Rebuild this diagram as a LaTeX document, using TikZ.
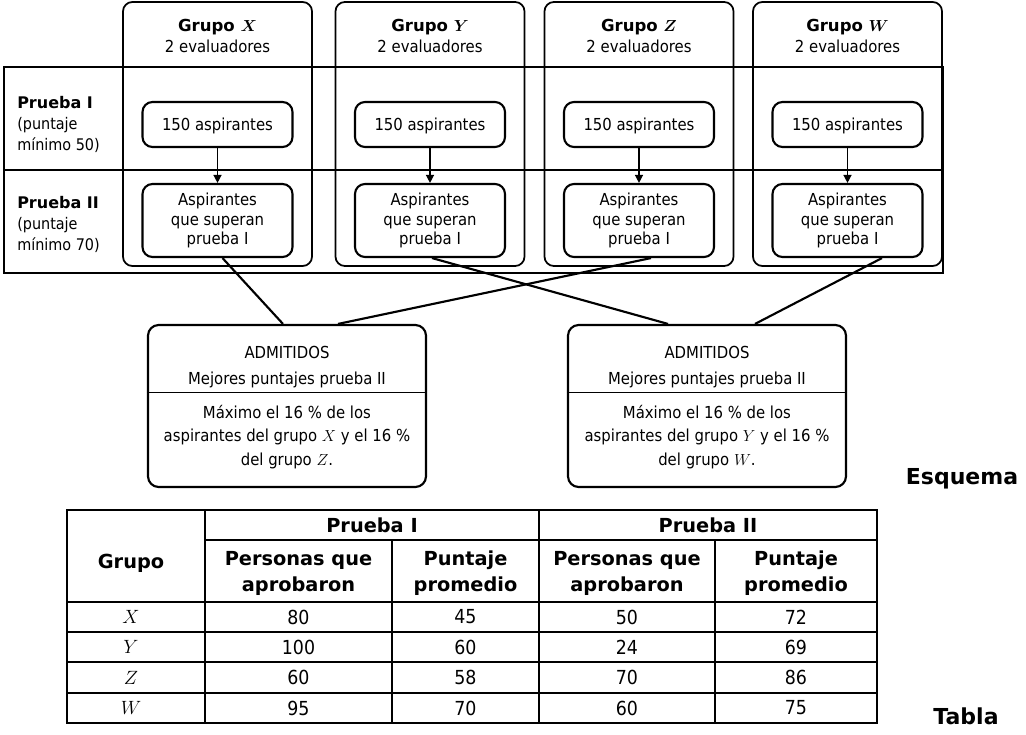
\documentclass[tikz,border=0pt]{standalone}
\usepackage{amsmath}
\usepackage{fontspec}
\setmainfont{DejaVu Sans Condensed}[BoldFont={DejaVu Sans Bold}]
\usetikzlibrary{calc,arrows.meta}

\begin{document}
\begin{tikzpicture}[x=0.75pt,y=-0.75pt,
  col/.style={draw, line width=1.3pt, rounded corners=7pt,
    minimum width=141.75pt, minimum height=198pt, inner sep=0pt},
  frame/.style={draw, line width=1.6pt, minimum width=704.25pt,
    minimum height=154.5pt, inner sep=0pt},
  box/.style={draw, line width=1.6pt, rounded corners=7.5pt,
    minimum width=112.5pt, inner sep=0pt, align=center,
    font=\fontsize{12.4}{14.6}\selectfont},
  adm/.style={draw, line width=1.6pt, rounded corners=8pt,
    minimum width=208.5pt, minimum height=121.5pt, inner sep=0pt},
  head/.style={align=center, font=\fontsize{12.4}{15.75}\selectfont},
  rowlab/.style={align=left, anchor=west, inner sep=0pt,
    font=\fontsize{12}{15.75}\selectfont},
  admtxt/.style={align=center, inner sep=0pt, font=\fontsize{12.4}{17.6}\selectfont},
  link/.style={line width=1.6pt},
  arr/.style={-{Triangle[length=6pt,width=6pt]}, line width=1pt},
  tabtxt/.style={align=center, inner sep=0pt, font=\fontsize{14.5}{19.5}\selectfont},
  tabhead/.style={align=center, inner sep=0pt, font=\bfseries\fontsize{14.5}{19.5}\selectfont},
  caption/.style={inner sep=0pt, font=\bfseries\fontsize{16.5}{18}\selectfont},
  grid/.style={line width=1pt}
]
\useasboundingbox (0,0) rectangle (1026,735);

% ---------- stages frame ----------
\node[frame] (frame) at (473.5,170) {};
\draw[line width=1.6pt] (frame.west) -- (frame.east);

\node[rowlab] (lab1) at (17,124) {\textbf{Prueba I}\\(puntaje\\mínimo 50)};
\node[rowlab] (lab2) at (17,224) {\textbf{Prueba II}\\(puntaje\\mínimo 70)};

% ---------- group columns ----------
\foreach \g/\cx/\gl in {x/217.5/X, y/430/Y, z/639/Z, w/847.5/W}{
  \node[col] (col\g) at (\cx,134) {};
  \node[head] (head\g) at (\cx,36) {\textbf{Grupo $\boldsymbol{\gl}$}\\2 evaluadores};
  \node[box, minimum height=33.75pt, text depth=0pt] (pa\g) at (\cx,124.5) {150 aspirantes};
  \node[box, minimum height=54.75pt] (pb\g) at (\cx,220.5) {Aspirantes\\que superan\\prueba I};
  \draw[arr] (pa\g.south) -- (pb\g.north);
}

% ---------- admission boxes ----------
\node[adm] (admL) at (287,406) {};
\node[adm] (admR) at (707,406) {};
\foreach \a/\p/\q in {admL/X/Z, admR/Y/W}{
  \draw[line width=0.8pt] ($(\a.north west)+(0,69)$) -- ($(\a.north east)+(0,69)$);
  \node[admtxt] (\a-t1) at ($(\a.north)+(0,29)$) {ADMITIDOS};
  \node[admtxt] (\a-t2) at ($(\a.north)+(0,56)$) {Mejores puntajes prueba II};
  \node[admtxt] (\a-b) at ($(\a.north)+(0,113)$)
    {Máximo el 16 \% de los\\aspirantes del grupo $\p$ y el 16 \%\\del grupo $\q$.};
}

% ---------- connectors ----------
\draw[link] ($(pbx.south)+(5,0)$) -- ($(admL.north)+(-4,0)$);
\draw[link] ($(pbz.south)+(12,0)$) -- ($(admL.north)+(51,0)$);
\draw[link] ($(pby.south)+(2,0)$) -- ($(admR.north)+(-39,0)$);
\draw[link] ($(pbw.south)+(34.5,0)$) -- ($(admR.north)+(48,0)$);

\node[caption] (esquema) at (962,479) {Esquema};

% ---------- table ----------
\draw[grid] (205,540) -- (877,540);
\foreach \yy in {602,632,662,693}{\draw[grid] (67,\yy) -- (877,\yy);}
\draw[grid] (205,510) -- (205,723);
\draw[grid] (539,510) -- (539,723);
\draw[grid] (392,540) -- (392,723);
\draw[grid] (715,540) -- (715,723);
\draw[line width=2pt] (67,510) rectangle (877,723);

\node[tabhead] (hg) at (131,563) {Grupo};
\node[tabhead] (h1) at (372,525) {Prueba I};
\node[tabhead] (h2) at (708,525) {Prueba II};
\node[tabhead] (h11) at (298.5,573) {Personas que\\aprobaron};
\node[tabhead] (h12) at (465.5,573) {Puntaje\\promedio};
\node[tabhead] (h21) at (627,573) {Personas que\\aprobaron};
\node[tabhead] (h22) at (796,573) {Puntaje\\promedio};

\foreach \r/\yy/\gname/\va/\vb/\vc/\vd in {1/617/X/80/45/50/72, 2/647/Y/100/60/24/69, 3/677.5/Z/60/58/70/86, 4/708/W/95/70/60/75}{
  \node[tabtxt] (g\r) at (131,\yy) {$\gname$};
  \node[tabtxt] (c\r a) at (298.5,\yy) {\va};
  \node[tabtxt] (c\r b) at (465.5,\yy) {\vb};
  \node[tabtxt] (c\r c) at (627,\yy) {\vc};
  \node[tabtxt] (c\r d) at (796,\yy) {\vd};
}

\node[caption] (tabla) at (966,716) {Tabla};
\end{tikzpicture}
\end{document}
